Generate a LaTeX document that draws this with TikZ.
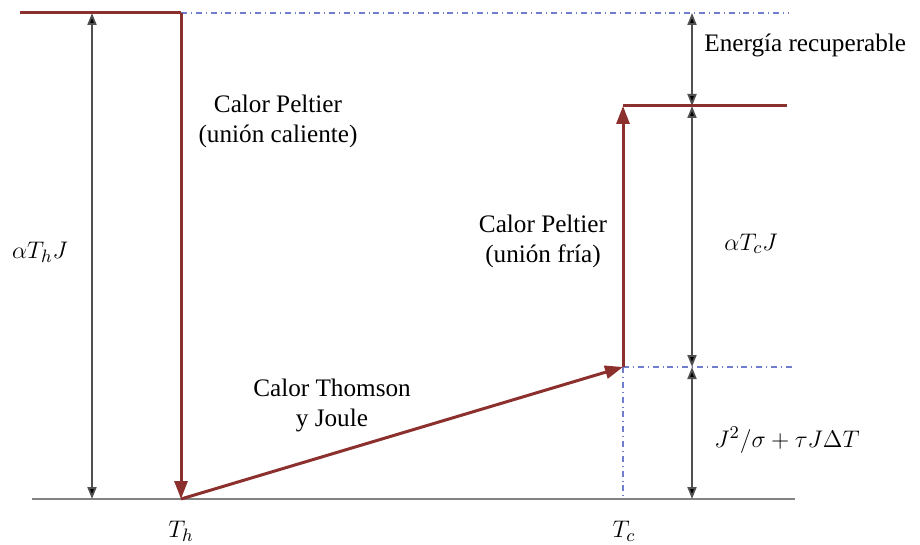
\documentclass[tikz,border=0pt]{standalone}
\usepackage{amsmath}
\usepackage{fontspec}
\setmainfont{Liberation Serif}
\usetikzlibrary{arrows.meta,positioning}
\definecolor{heatred}{RGB}{140,48,46}
\definecolor{guideblue}{RGB}{112,124,204}
\definecolor{groundgray}{RGB}{130,130,130}
\definecolor{dimgray}{RGB}{80,80,80}

\begin{document}
\begin{tikzpicture}[
  x=0.5pt, y=-0.5pt,
  font=\fontsize{12.6}{15}\selectfont,
  level/.style={draw=heatred, line width=1.5pt},
  flow/.style={draw=heatred, line width=1.5pt, -{Triangle[length=9pt, width=6.5pt]}},
  guide/.style={draw=guideblue, dash dot, line width=0.8pt},
  ground/.style={draw=groundgray, line width=1.3pt},
  dim/.style={draw=dimgray, line width=0.9pt, {Triangle[length=6pt, width=4.5pt, fill=black]}-{Triangle[length=6pt, width=4.5pt, fill=black]}},
  lbl/.style={align=center, inner sep=1pt}
]
\useasboundingbox (0,0) rectangle (920,545);
\coordinate (hotstart) at (20,13);
\coordinate (hottop) at (181,13);
\coordinate (topend) at (788,13);
\coordinate (hotbot) at (181,499);
\coordinate (groundL) at (32,499);
\coordinate (groundR) at (795,499);
\coordinate (coldbot) at (623,367);
\coordinate (coldtop) at (623,106);
\coordinate (coldend) at (787,106);
\coordinate (midend) at (795,367);
\coordinate (coldfoot) at (623,499);
\coordinate (dimLtop) at (92,13);
\coordinate (dimLbot) at (92,499);
\coordinate (dimRtop) at (692,13);
\coordinate (dimRcold) at (692,106);
\coordinate (dimRmid) at (692,367);
\coordinate (dimRbot) at (692,499);
\node[lbl] (peltierhot) at (278,121) {Calor Peltier\\(unión caliente)};
\node[lbl] (peltiercold) at (543,241) {Calor Peltier\\(unión fría)};
\node[lbl] (thomson) at (332,405) {Calor Thomson\\y Joule};
\node[lbl, anchor=west] (recover) at (702,45) {Energía recuperable};
\node[lbl] (qhot) at (40,252) {$\alpha T_hJ$};
\node[lbl] (qcold) at (751,244) {$\alpha T_cJ$};
\node[lbl] (qjoule) at (787,440) {$J^2/\sigma+\tau J\Delta T$};
\node[lbl] (th) at (181,531) {$T_h$};
\node[lbl] (tc) at (624,531) {$T_c$};
\draw[guide] (hottop) -- (topend);
\draw[guide] (coldbot) -- (midend);
\draw[guide] (coldbot) -- (coldfoot);
\draw[ground] (groundL) -- (groundR);
\draw[dim] (dimLtop) -- (dimLbot);
\draw[dim] (dimRtop) -- (dimRcold);
\draw[dim] (dimRcold) -- (dimRmid);
\draw[dim] (dimRmid) -- (dimRbot);
\draw[level] (hotstart) -- (hottop);
\draw[level] (coldtop) -- (coldend);
\draw[flow] (hottop) -- (hotbot);
\draw[flow] (hotbot) -- (coldbot);
\draw[flow] (coldbot) -- (coldtop);
\end{tikzpicture}
\end{document}
